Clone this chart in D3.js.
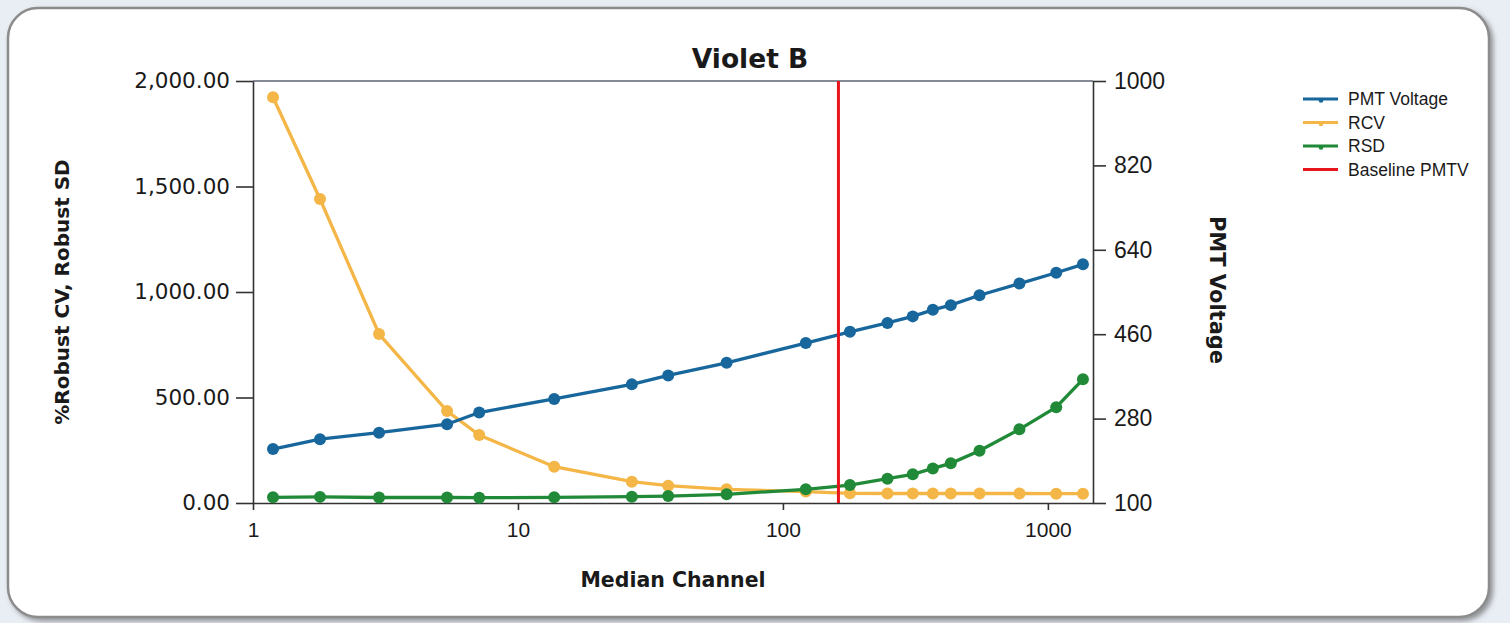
<!DOCTYPE html>
<html>
<head>
<meta charset="utf-8">
<script src="https://cdn.jsdelivr.net/npm/d3@7"></script>
<style>
  html, body { margin: 0; padding: 0; background: #e9eef5; }
  svg { display: block; }
</style>
</head>
<body>
<svg id="chart" width="1510" height="623"></svg>
<script>
// median channel of each run (x, log scale)
var channels = [1.19, 1.79, 2.99, 5.40, 7.14, 13.7, 26.9, 36.9, 61.3, 122, 179, 248, 309, 368, 430, 552, 781, 1075, 1356];
// PMT voltage (right axis)
var pmtVoltage = [215, 236, 250, 268, 293, 322, 353, 372, 399, 441, 465, 484, 498, 512, 522, 543, 568, 591, 609];
// robust CV and robust SD (left axis)
var rcv = [1923, 1441, 801, 436, 322, 172, 101, 82, 65, 54, 46, 45, 45, 45, 45, 45, 45, 44, 44];
var rsd = [27, 29, 26, 26, 25, 27, 30, 33, 41, 65, 85, 115, 136, 164, 188, 248, 349, 454, 586];
// baseline PMTV, drawn as a vertical line at this median channel
var baselineChannel = [162];

var leftTicks = [0, 500, 1000, 1500, 2000];
var rightTicks = [100, 280, 460, 640, 820, 1000];
var bottomTicks = [1, 10, 100, 1000];

var legendNames = ["PMT Voltage", "RCV", "RSD", "Baseline PMTV"];
var colors = {"PMT Voltage": "#17669c", "RCV": "#f4b646", "RSD": "#208a38", "Baseline PMTV": "#e8141c"};

(function draw() {
  "use strict";

  var svg = d3.select("#chart");

  // panel with rounded corners and a soft shadow
  var defs = svg.append("defs");
  var f = defs.append("filter").attr("id", "shadow")
    .attr("x", "-5%").attr("y", "-5%").attr("width", "110%").attr("height", "110%");
  f.append("feDropShadow").attr("dx", 3).attr("dy", 3).attr("stdDeviation", 2.5)
    .attr("flood-color", "#555").attr("flood-opacity", 0.6);

  svg.append("rect")
    .attr("x", 8).attr("y", 8)
    .attr("width", 1481).attr("height", 609)
    .attr("rx", 30).attr("ry", 30)
    .attr("fill", "#fff")
    .attr("stroke", "#8c8c8c")
    .attr("stroke-width", 2.5)
    .attr("filter", "url(#shadow)");

  var plotLeft = 253, plotRight = 1093, plotTop = 81, plotBottom = 503;

  var x = d3.scaleLog().domain([1, 1480]).range([plotLeft, plotRight]);
  var yL = d3.scaleLinear().domain([0, 2000]).range([plotBottom, plotTop]);
  var yR = d3.scaleLinear().domain([100, 1000]).range([plotBottom, plotTop]);

  // top frame line
  svg.append("line")
    .attr("x1", plotLeft).attr("x2", plotRight)
    .attr("y1", plotTop).attr("y2", plotTop)
    .style("stroke", "#5b6470")
    .style("stroke-width", 1.5);

  var leftAxis = svg.append("g")
    .attr("transform", "translate(" + plotLeft + ",0)")
    .call(d3.axisLeft(yL).tickValues(leftTicks).tickFormat(d3.format(",.2f"))
      .tickSize(17).tickSizeOuter(0).tickPadding(6));
  leftAxis.selectAll("text")
    .style("font-family", "DejaVu Sans")
    .style("font-size", "21.5px")
    .style("fill", "#1a1a1a");

  var rightAxis = svg.append("g")
    .attr("transform", "translate(" + plotRight + ",0)")
    .call(d3.axisRight(yR).tickValues(rightTicks).tickFormat(d3.format("d"))
      .tickSize(13).tickSizeOuter(0).tickPadding(8));
  rightAxis.selectAll("text")
    .style("font-family", "Liberation Sans")
    .style("font-size", "23px")
    .style("fill", "#1a1a1a");

  var bottomAxis = svg.append("g")
    .attr("transform", "translate(0," + plotBottom + ")")
    .call(d3.axisBottom(x).tickValues(bottomTicks).tickFormat(d3.format("d"))
      .tickSize(7).tickSizeOuter(0).tickPadding(12));
  bottomAxis.selectAll("text")
    .style("font-family", "Liberation Sans")
    .style("font-size", "21px")
    .style("fill", "#1a1a1a");

  svg.selectAll(".domain, .tick line")
    .style("stroke", "#333")
    .style("stroke-width", 1.6);

  // series
  function drawSeries(values, yScale, color) {
    var pts = channels.map(function(c, i) { return [c, values[i]]; });
    var line = d3.line()
      .x(function(d) { return x(d[0]); })
      .y(function(d) { return yScale(d[1]); });
    svg.append("path")
      .datum(pts)
      .attr("d", line)
      .attr("fill", "none")
      .attr("stroke", color)
      .attr("stroke-width", 3.3);
    svg.append("g").selectAll("circle")
      .data(pts)
      .enter()
      .append("circle")
      .attr("cx", function(d) { return x(d[0]); })
      .attr("cy", function(d) { return yScale(d[1]); })
      .attr("r", 6)
      .attr("fill", color);
  }

  drawSeries(rcv, yL, colors["RCV"]);
  drawSeries(rsd, yL, colors["RSD"]);
  drawSeries(pmtVoltage, yR, colors["PMT Voltage"]);

  svg.selectAll(".baseline")
    .data(baselineChannel)
    .enter()
    .append("line")
    .attr("class", "baseline")
    .attr("x1", function(d) { return x(d); })
    .attr("x2", function(d) { return x(d); })
    .attr("y1", plotTop)
    .attr("y2", plotBottom)
    .style("stroke", colors["Baseline PMTV"])
    .style("stroke-width", 3);

  // titles
  svg.append("text")
    .attr("x", 750).attr("y", 68)
    .attr("text-anchor", "middle")
    .style("font-family", "DejaVu Sans")
    .style("font-weight", "bold")
    .style("font-size", "26.5px")
    .style("fill", "#1a1a1a")
    .text("Violet B");

  svg.append("text")
    .attr("x", 673).attr("y", 587)
    .attr("text-anchor", "middle")
    .style("font-family", "DejaVu Sans")
    .style("font-weight", "bold")
    .style("font-size", "20.5px")
    .style("fill", "#1a1a1a")
    .text("Median Channel");

  svg.append("text")
    .attr("transform", "translate(69,292) rotate(-90)")
    .attr("text-anchor", "middle")
    .style("font-family", "DejaVu Sans")
    .style("font-weight", "bold")
    .style("font-size", "20px")
    .style("fill", "#1a1a1a")
    .text("%Robust CV, Robust SD");

  svg.append("text")
    .attr("transform", "translate(1210,290) rotate(90)")
    .attr("text-anchor", "middle")
    .style("font-family", "DejaVu Sans")
    .style("font-weight", "bold")
    .style("font-size", "21px")
    .style("fill", "#1a1a1a")
    .text("PMT Voltage");

  // legend
  var legend = svg.append("g").selectAll("g")
    .data(legendNames)
    .enter()
    .append("g")
    .attr("transform", function(d, i) { return "translate(1303," + (99 + i * 23.5) + ")"; });

  legend.append("line")
    .attr("x1", 0).attr("x2", 35)
    .attr("y1", 0).attr("y2", 0)
    .style("stroke", function(d) { return colors[d]; })
    .style("stroke-width", 3);

  legend.filter(function(d) { return d !== "Baseline PMTV"; })
    .append("circle")
    .attr("cx", 18).attr("cy", 1.5)
    .attr("r", 2.3)
    .attr("fill", function(d) { return colors[d]; });

  legend.append("text")
    .attr("x", 45).attr("y", 0)
    .attr("dy", "0.35em")
    .style("font-family", "Liberation Sans")
    .style("font-size", "17.5px")
    .style("fill", "#1a1a1a")
    .text(function(d) { return d; });
})();
</script>
</body>
</html>
